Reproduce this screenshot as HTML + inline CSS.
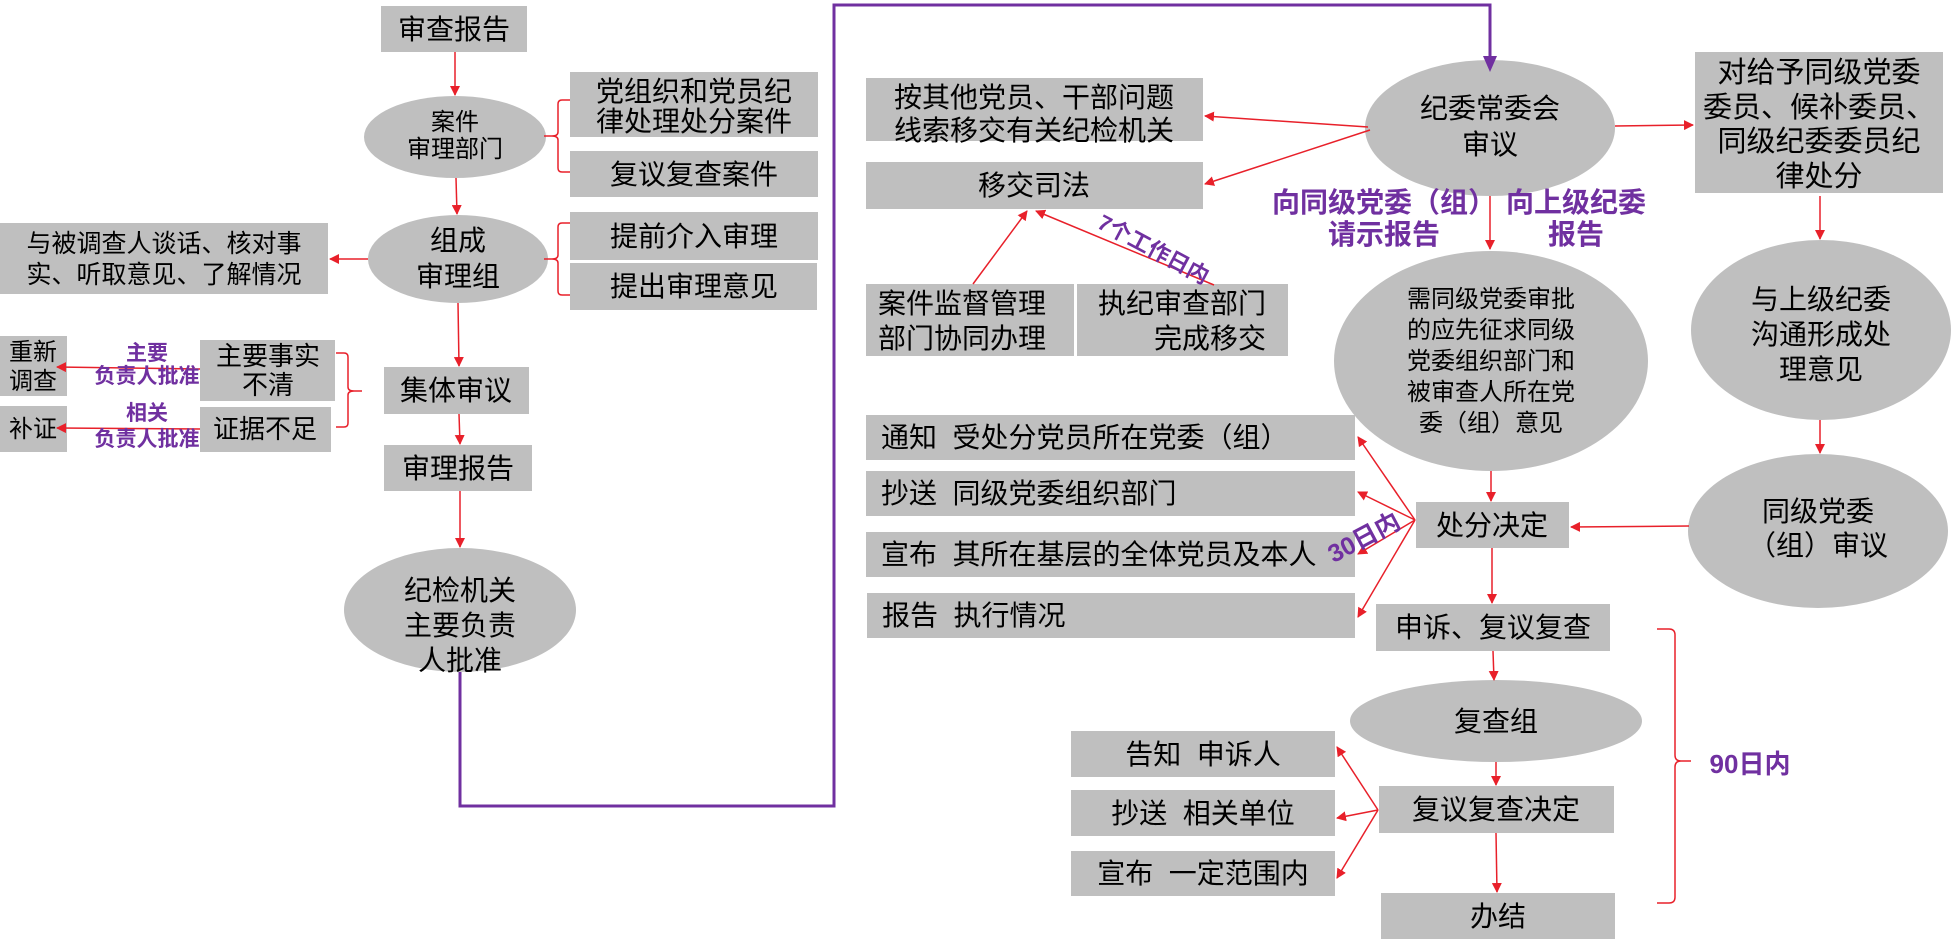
<!DOCTYPE html>
<html><head><meta charset="utf-8"><style>
html,body{margin:0;padding:0;background:#fff;}
svg{display:block;}
text{font-family:"Liberation Sans","Noto Sans CJK SC",sans-serif;fill:#000;white-space:pre;}
.p{fill:#7030a0;font-weight:bold;}
</style></head><body>
<svg width="1953" height="950" viewBox="0 0 1953 950" xmlns="http://www.w3.org/2000/svg" xml:space="preserve">
<defs>
<marker id="a" markerWidth="10" markerHeight="10" refX="9" refY="5" orient="auto" markerUnits="userSpaceOnUse" viewBox="0 0 10 10"><path d="M0,0 L10,5 L0,10 z" fill="#e8202a"/></marker>
</defs>
<g fill="#bfbfbf">
<rect x="381" y="6" width="146" height="46"/>
<ellipse cx="455" cy="137" rx="91" ry="41"/>
<rect x="570" y="72" width="248" height="65"/>
<rect x="570" y="151" width="248" height="46"/>
<ellipse cx="458" cy="259" rx="90" ry="44"/>
<rect x="570" y="212" width="248" height="48"/>
<rect x="570" y="263" width="247" height="47"/>
<rect x="0" y="223" width="328" height="71"/>
<rect x="384" y="367" width="145" height="47"/>
<rect x="384" y="445" width="148" height="46"/>
<ellipse cx="460" cy="610" rx="116" ry="62"/>
<rect x="0" y="336" width="67" height="60"/>
<rect x="200" y="340" width="135" height="61"/>
<rect x="0" y="406" width="67" height="46"/>
<rect x="200" y="407" width="131" height="45"/>
<ellipse cx="1490" cy="128" rx="125" ry="68"/>
<rect x="866" y="78" width="337" height="63"/>
<rect x="866" y="162" width="337" height="47"/>
<rect x="866" y="284" width="208" height="72"/>
<rect x="1077" y="284" width="211" height="72"/>
<rect x="1695" y="52" width="248" height="141"/>
<ellipse cx="1491" cy="361" rx="157" ry="110"/>
<ellipse cx="1821" cy="330" rx="130" ry="90"/>
<ellipse cx="1818" cy="531" rx="130" ry="77"/>
<rect x="1416" y="502" width="153" height="46"/>
<rect x="866" y="415" width="489" height="45"/>
<rect x="866" y="471" width="489" height="45"/>
<rect x="866" y="532" width="489" height="45"/>
<rect x="867" y="593" width="488" height="45"/>
<rect x="1376" y="604" width="234" height="47"/>
<ellipse cx="1496" cy="721" rx="146" ry="41"/>
<rect x="1379" y="786" width="235" height="47"/>
<rect x="1071" y="731" width="264" height="46"/>
<rect x="1071" y="790" width="264" height="46"/>
<rect x="1071" y="851" width="264" height="45"/>
<rect x="1381" y="893" width="234" height="46"/>
</g>
<g stroke="#e8202a" stroke-width="1.5" fill="none">
<line x1="455" y1="52" x2="455" y2="95" marker-end="url(#a)"/>
<line x1="456" y1="178" x2="457" y2="214" marker-end="url(#a)"/>
<line x1="368" y1="259" x2="330" y2="259" marker-end="url(#a)"/>
<line x1="458" y1="303" x2="459" y2="366" marker-end="url(#a)"/>
<line x1="459" y1="414" x2="460" y2="444" marker-end="url(#a)"/>
<line x1="460" y1="491" x2="460" y2="547" marker-end="url(#a)"/>
<path d="M570,100 h-8 q-4,0 -4,4 v28 q0,4 -6,4 h-8 M552,136 q6,0 6,4 v28 q0,4 4,4 h8"/>
<path d="M570,223 h-8 q-4,0 -4,4 v28 q0,4 -6,4 h-8 M552,259 q6,0 6,4 v28 q0,4 4,4 h8"/>
<path d="M336,353 h8 q4,0 4,4 v30 q0,4 6,4 h8 M354,391 q-6,0 -6,4 v28 q0,4 -4,4 h-8"/>
<line x1="200" y1="369" x2="57" y2="367" marker-end="url(#a)"/>
<line x1="200" y1="429" x2="57" y2="428" marker-end="url(#a)"/>
<line x1="1368" y1="127" x2="1205" y2="116" marker-end="url(#a)"/>
<line x1="1370" y1="130" x2="1205" y2="184" marker-end="url(#a)"/>
<line x1="1615" y1="126" x2="1693" y2="125" marker-end="url(#a)"/>
<line x1="1490" y1="196" x2="1490" y2="249" marker-end="url(#a)"/>
<line x1="1820" y1="196" x2="1820" y2="239" marker-end="url(#a)"/>
<line x1="1820" y1="420" x2="1820" y2="453" marker-end="url(#a)"/>
<line x1="1689" y1="526" x2="1571" y2="527" marker-end="url(#a)"/>
<line x1="1491" y1="471" x2="1491" y2="501" marker-end="url(#a)"/>
<line x1="973" y1="284" x2="1027" y2="211" marker-end="url(#a)"/>
<line x1="1214" y1="285" x2="1036" y2="211" marker-end="url(#a)"/>
<line x1="1415" y1="520" x2="1358" y2="437" marker-end="url(#a)"/>
<line x1="1415" y1="520" x2="1358" y2="492" marker-end="url(#a)"/>
<line x1="1415" y1="520" x2="1358" y2="554" marker-end="url(#a)"/>
<line x1="1415" y1="520" x2="1358" y2="617" marker-end="url(#a)"/>
<line x1="1492" y1="548" x2="1492" y2="603" marker-end="url(#a)"/>
<line x1="1493" y1="651" x2="1494" y2="680" marker-end="url(#a)"/>
<line x1="1496" y1="762" x2="1496" y2="785" marker-end="url(#a)"/>
<line x1="1496" y1="833" x2="1497" y2="892" marker-end="url(#a)"/>
<line x1="1378" y1="810" x2="1337" y2="747" marker-end="url(#a)"/>
<line x1="1378" y1="810" x2="1337" y2="818" marker-end="url(#a)"/>
<line x1="1378" y1="810" x2="1337" y2="878" marker-end="url(#a)"/>
<path d="M1657,629 h12 q6,0 6,6 v120 q0,6 6,6 h10 M1681,761 q-6,0 -6,6 v130 q0,6 -6,6 h-12"/>
</g>
<polyline points="460,672 460,806 834,806 834,5 1490,5 1490,58" fill="none" stroke="#7030a0" stroke-width="3"/>
<path d="M1483,56 L1497,56 L1490,72 z" fill="#7030a0"/>
<g font-size="28" text-anchor="middle">
<text x="454" y="39">审查报告</text>
<text x="694" y="101">党组织和党员纪</text>
<text x="694" y="131">律处理处分案件</text>
<text x="694" y="184">复议复查案件</text>
<text x="458" y="250">组成</text>
<text x="458" y="286">审理组</text>
<text x="694" y="246">提前介入审理</text>
<text x="694" y="296">提出审理意见</text>
<text x="456" y="400">集体审议</text>
<text x="458" y="478">审理报告</text>
<text x="460" y="600">纪检机关</text>
<text x="460" y="635">主要负责</text>
<text x="460" y="670">人批准</text>
<text x="1490" y="118">纪委常委会</text>
<text x="1490" y="154">审议</text>
<text x="1034" y="107">按其他党员、干部问题</text>
<text x="1034" y="140">线索移交有关纪检机关</text>
<text x="1034" y="195">移交司法</text>
<text x="1821" y="309">与上级纪委</text>
<text x="1821" y="344">沟通形成处</text>
<text x="1821" y="379">理意见</text>
<text x="1818" y="521">同级党委</text>
<text x="1818" y="555">（组）审议</text>
<text x="1492" y="535">处分决定</text>
<text x="1493" y="637">申诉、复议复查</text>
<text x="1496" y="731">复查组</text>
<text x="1496" y="819">复议复查决定</text>
<text x="1203" y="764">告知  申诉人</text>
<text x="1203" y="823">抄送  相关单位</text>
<text x="1203" y="883">宣布  一定范围内</text>
<text x="1498" y="926">办结</text>
</g>
<g font-size="29" text-anchor="middle">
<text x="1819" y="82">对给予同级党委</text>
<text x="1819" y="117">委员、候补委员、</text>
<text x="1819" y="151">同级纪委委员纪</text>
<text x="1819" y="186">律处分</text>
</g>
<g font-size="28">
<text x="878" y="313">案件监督管理</text>
<text x="878" y="348">部门协同办理</text>
<text x="1098" y="313">执纪审查部门</text>
<text x="1154" y="348">完成移交</text>
<text x="881" y="447">通知  受处分党员所在党委（组）</text>
<text x="881" y="503">抄送  同级党委组织部门</text>
<text x="881" y="564">宣布  其所在基层的全体党员及本人</text>
<text x="882" y="625">报告  执行情况</text>
</g>
<g font-size="24" text-anchor="middle">
<text x="455" y="130">案件</text>
<text x="455" y="157">审理部门</text>
<text x="164" y="252" font-size="25">与被调查人谈话、核对事</text>
<text x="164" y="283" font-size="25">实、听取意见、了解情况</text>
<text x="33" y="360">重新</text>
<text x="33" y="389">调查</text>
<text x="268" y="365" font-size="26">主要事实</text>
<text x="268" y="394" font-size="26">不清</text>
<text x="33" y="437">补证</text>
<text x="265" y="438" font-size="26">证据不足</text>
<text x="1491" y="307">需同级党委审批</text>
<text x="1491" y="338">的应先征求同级</text>
<text x="1491" y="369">党委组织部门和</text>
<text x="1491" y="400">被审查人所在党</text>
<text x="1491" y="431">委（组）意见</text>
</g>
<g font-size="21" text-anchor="middle">
<text class="p" x="147" y="360">主要</text>
<text class="p" x="147" y="383">负责人批准</text>
<text class="p" x="147" y="420">相关</text>
<text class="p" x="147" y="446">负责人批准</text>
</g>
<g font-size="28" text-anchor="middle">
<text class="p" x="1384" y="212">向同级党委（组）</text>
<text class="p" x="1384" y="244">请示报告</text>
<text class="p" x="1576" y="212">向上级纪委</text>
<text class="p" x="1576" y="244">报告</text>
<text class="p" x="1750" y="773" font-size="26">90日内</text>
</g>
<text class="p" font-size="22" transform="translate(1150,256) rotate(28)" text-anchor="middle">7个工作日内</text>
<text class="p" font-size="25" transform="translate(1368,545) rotate(-28)" text-anchor="middle">30日内</text>
</svg>
</body></html>
